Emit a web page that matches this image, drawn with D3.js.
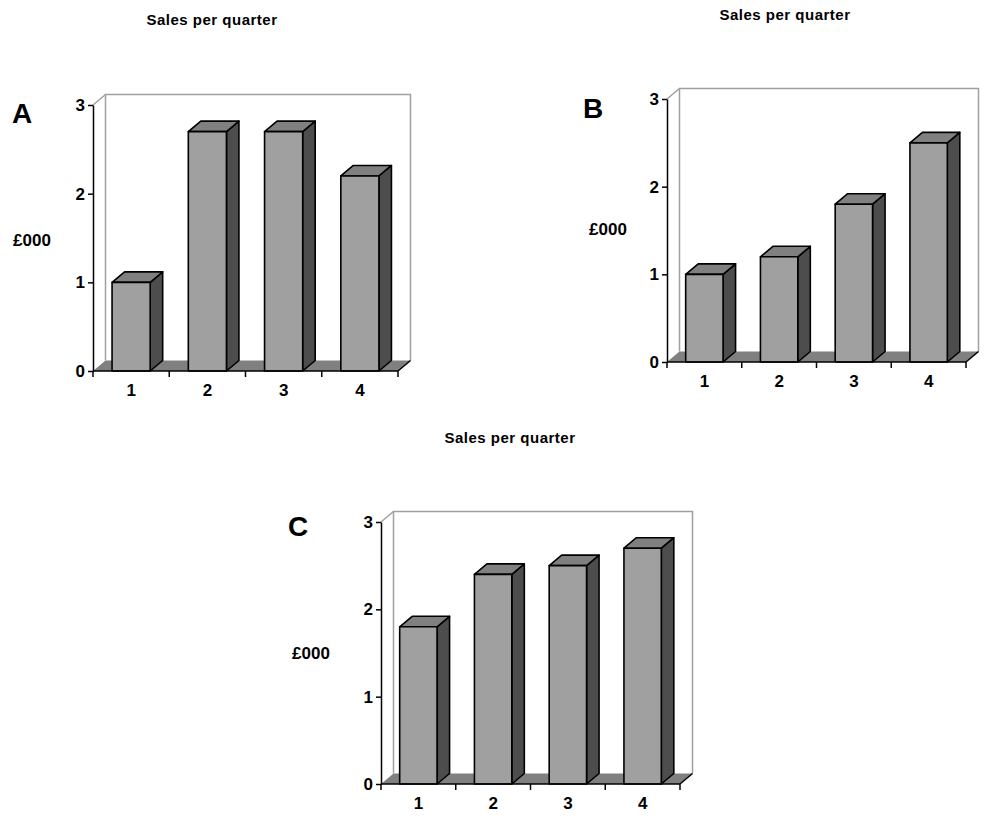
<!DOCTYPE html>
<html>
<head>
<meta charset="utf-8">
<script src="https://cdn.jsdelivr.net/npm/d3@7"></script>
<style>
    body { margin: 0; background: #fff; }
    svg { display: block; }
    text { font-family: "Liberation Sans", Arial, sans-serif; font-weight: bold; fill: #000; }
    .axis path, .axis line { stroke: #000; stroke-width: 1.5; }
    .axis text { font-size: 17px; }
</style>
</head>
<body>
<script>
// chart data
var quarters = ["1", "2", "3", "4"];
var salesA = [1.0, 2.7, 2.7, 2.2];
var salesB = [1.0, 1.2, 1.8, 2.5];
var salesC = [1.8, 2.4, 2.5, 2.7];
var yTicks = [0, 1, 2, 3];
var chartTitle = "Sales per quarter";
var yLabel = "£000";

var width = 985, height = 821;
var depth = {dx: 12.5, dy: 10.5};

var svg = d3.select("body").append("svg")
    .attr("width", width)
    .attr("height", height);

// one panel = one little 3D excel style column chart
function drawPanel(letter, values, box) {
    var g = svg.append("g").attr("class", "panel-" + letter);

    var x = d3.scaleBand()
        .domain(quarters)
        .range([box.left, box.right])
        .paddingInner(0.5)
        .paddingOuter(0.25);

    var y = d3.scaleLinear()
        .domain([0, 3])
        .range([box.bottom, box.top]);

    var dx = depth.dx, dy = depth.dy;
    var y0 = y(0), y3 = y(3);

    // back wall
    g.append("path")
        .attr("d", "M" + (box.left + dx) + "," + (y0 - dy) +
            "V" + (y3 - dy) + "H" + (box.right + dx) + "V" + (y0 - dy))
        .attr("fill", "none")
        .attr("stroke", "#a0a0a0")
        .attr("stroke-width", 1.5);

    // side wall top edge
    g.append("line")
        .attr("x1", box.left).attr("y1", y3)
        .attr("x2", box.left + dx).attr("y2", y3 - dy)
        .attr("stroke", "#a0a0a0")
        .attr("stroke-width", 1.5);

    // floor
    g.append("path")
        .attr("d", "M" + box.left + "," + y0 + "L" + box.right + "," + y0 +
            "L" + (box.right + dx) + "," + (y0 - dy) +
            "L" + (box.left + dx) + "," + (y0 - dy) + "Z")
        .attr("fill", "#808080");
    g.append("line")
        .attr("x1", box.right).attr("y1", y0)
        .attr("x2", box.right + dx).attr("y2", y0 - dy)
        .attr("stroke", "#000")
        .attr("stroke-width", 1.5);

    // bars
    var bars = g.selectAll(".bar")
        .data(values)
        .enter()
        .append("g")
        .attr("class", "bar");

    var bw = x.bandwidth();

    bars.append("path") // side
        .attr("d", function(d, i) {
            var xr = x(quarters[i]) + bw;
            return "M" + xr + "," + y0 + "L" + (xr + dx) + "," + (y0 - dy) +
                "L" + (xr + dx) + "," + (y(d) - dy) + "L" + xr + "," + y(d) + "Z";
        })
        .attr("fill", "#4d4d4d");

    bars.append("path") // top
        .attr("d", function(d, i) {
            var xl = x(quarters[i]);
            return "M" + xl + "," + y(d) + "L" + (xl + dx) + "," + (y(d) - dy) +
                "L" + (xl + bw + dx) + "," + (y(d) - dy) + "L" + (xl + bw) + "," + y(d) + "Z";
        })
        .attr("fill", "#808080");

    bars.append("rect") // front
        .attr("x", function(d, i) { return x(quarters[i]); })
        .attr("y", function(d) { return y(d); })
        .attr("width", bw)
        .attr("height", function(d) { return y0 - y(d); })
        .attr("fill", "#a0a0a0");

    bars.selectAll("path, rect")
        .attr("stroke", "#000")
        .attr("stroke-width", 1.6)
        .attr("stroke-linejoin", "round");

    // axes
    g.append("g")
        .attr("class", "axis y-axis")
        .attr("transform", "translate(" + box.left + ",0)")
        .call(d3.axisLeft(y).tickValues(yTicks).tickSize(5).tickSizeOuter(0).tickPadding(3).tickFormat(d3.format("d")));

    var xAxis = g.append("g")
        .attr("class", "axis x-axis")
        .attr("transform", "translate(0," + y0 + ")")
        .call(d3.axisBottom(x).tickSize(0).tickSizeOuter(0).tickPadding(13));
    xAxis.select(".domain").attr("d", "M" + box.left + ",0H" + box.right);

    // tick marks sit between the categories
    var bounds = d3.range(quarters.length + 1).map(function(i) {
        return box.left + i * x.step();
    });
    xAxis.selectAll(".sep")
        .data(bounds)
        .enter()
        .append("line")
        .attr("class", "sep")
        .attr("x1", function(d) { return d; })
        .attr("x2", function(d) { return d; })
        .attr("y1", 0)
        .attr("y2", 6);

    // texts
    g.append("text")
        .attr("x", box.titleX)
        .attr("y", box.titleY)
        .attr("text-anchor", "middle")
        .style("font-size", "15px")
        .style("letter-spacing", "0.5px")
        .text(chartTitle);

    g.append("text")
        .attr("x", box.letterX)
        .attr("y", box.letterY)
        .attr("text-anchor", "middle")
        .style("font-size", "28px")
        .text(letter);

    g.append("text")
        .attr("x", box.labelX)
        .attr("y", box.labelY)
        .attr("text-anchor", "middle")
        .style("font-size", "17px")
        .text(yLabel);
}

drawPanel("A", salesA, {left: 93, right: 398, top: 105, bottom: 371,
    titleX: 212, titleY: 25, letterX: 22, letterY: 123, labelX: 32, labelY: 246});
drawPanel("B", salesB, {left: 667, right: 966, top: 99, bottom: 362,
    titleX: 785, titleY: 20, letterX: 593, letterY: 118, labelX: 608, labelY: 235});
drawPanel("C", salesC, {left: 381, right: 680, top: 522, bottom: 784,
    titleX: 510, titleY: 443, letterX: 298, letterY: 536, labelX: 311, labelY: 659});
</script>
</body>
</html>
